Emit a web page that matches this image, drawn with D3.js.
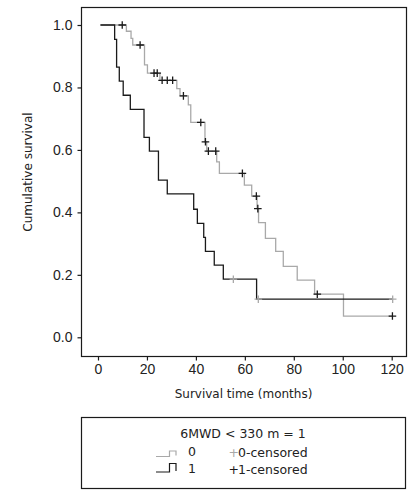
<!DOCTYPE html>
<html>
<head>
<meta charset="utf-8">
<script src="https://cdn.jsdelivr.net/npm/d3@7"></script>
<style>
  html, body { margin: 0; padding: 0; background: #fff; }
  svg { display: block; }
</style>
</head>
<body>
<svg id="chart" width="420" height="492"></svg>
<script>
// ---- Data ----
// Group 0 (6MWD >= 330 m): step drops (time in months, survival after drop)
const group0Start = 1;
const group0End = 120.3;
const group0Times = [11.6, 13.5, 14.2, 19.0, 20.2, 25.3, 32.2, 33.5, 36.9, 37.9, 43.7, 44.4, 48.5, 49.6, 59.8, 62.8, 65.0, 65.6, 68.4, 72.6, 75.7, 81.4, 88.5, 100.3];
const group0Surv  = [0.980, 0.957, 0.936, 0.872, 0.846, 0.823, 0.796, 0.773, 0.744, 0.688, 0.626, 0.596, 0.562, 0.525, 0.487, 0.452, 0.412, 0.367, 0.317, 0.275, 0.227, 0.183, 0.138, 0.068];
const group0Censored = [9.9, 17.2, 22.9, 24.2, 26.2, 28.3, 30.5, 34.9, 42.0, 43.9, 45.1, 48.1, 59.0, 64.7, 65.3, 89.6, 120.3];

// Group 1 (6MWD < 330 m)
const group1Start = 1;
const group1End = 120.4;
const group1Times = [6.8, 7.6, 8.7, 10.3, 13.2, 18.8, 21.0, 24.7, 28.3, 39.1, 40.6, 43.2, 43.9, 47.5, 51.2, 64.8];
const group1Surv  = [0.954, 0.865, 0.820, 0.775, 0.730, 0.640, 0.596, 0.503, 0.459, 0.410, 0.365, 0.320, 0.275, 0.231, 0.186, 0.122];
const group1Censored = [55.3, 65.5, 120.4];

const xTicks = [0, 20, 40, 60, 80, 100, 120];
const yTicks = [0.0, 0.2, 0.4, 0.6, 0.8, 1.0];
const xTitle = "Survival time (months)";
const yTitle = "Cumulative survival";
const legendTitle = "6MWD < 330 m = 1";
const legendLabels = ["0", "1"];
const legendCensorLabels = ["0-censored", "1-censored"];

// ---- Styles ----
const GRAY = "#a9a9a9";
const BLACK = "#1a1a1a";
const frame = { left: 81, top: 7, right: 406, bottom: 356 };

const svg = d3.select("#chart");

const x = d3.scaleLinear().domain([0, 120]).range([98, 391.7]);
const y = d3.scaleLinear().domain([0, 1]).range([337.3, 25]);

// frame
svg.append("rect")
  .attr("x", frame.left + 0.5).attr("y", frame.top + 0.5)
  .attr("width", frame.right - frame.left).attr("height", frame.bottom - frame.top)
  .attr("fill", "none").attr("stroke", BLACK).attr("stroke-width", 1.2);

// axes
const yAxis = d3.axisLeft(y).tickValues(yTicks).tickFormat(d3.format(".1f")).tickSize(4).tickPadding(5);
const gy = svg.append("g").attr("transform", `translate(${frame.left + 0.5},0)`).call(yAxis);
const xAxis = d3.axisBottom(x).tickValues(xTicks).tickFormat(d3.format("d")).tickSize(4).tickPadding(4);
const gx = svg.append("g").attr("transform", `translate(0,${frame.bottom + 0.5})`).call(xAxis);
[gx, gy].forEach(g => {
  g.select(".domain").remove();
  g.selectAll(".tick line").attr("stroke", BLACK).attr("stroke-width", 1.2);
  g.selectAll(".tick text").attr("fill", "#222")
    .style("font-family", "'Liberation Sans', Arial, sans-serif").style("font-size", "14px");
});

// titles
svg.append("text").attr("x", 243.5).attr("y", 398)
  .attr("text-anchor", "middle").attr("fill", "#222")
  .style("font-family", "'DejaVu Sans', sans-serif").style("font-size", "12px")
  .text(xTitle);
svg.append("text").attr("transform", "translate(32,172) rotate(-90)")
  .attr("text-anchor", "middle").attr("fill", "#222")
  .style("font-family", "'DejaVu Sans', sans-serif").style("font-size", "12px")
  .text(yTitle);

// step curves
function stepPoints(start, end, times, surv) {
  const pts = [[start, 1]];
  times.forEach((t, i) => pts.push([t, surv[i]]));
  pts.push([end, surv[surv.length - 1]]);
  return pts;
}
function survAt(t, times, surv) {
  let s = 1;
  times.forEach((tt, i) => { if (tt <= t) s = surv[i]; });
  return s;
}
const line = d3.line().x(d => x(d[0])).y(d => y(d[1])).curve(d3.curveStepAfter);

svg.append("path").datum(stepPoints(group0Start, group0End, group0Times, group0Surv))
  .attr("d", line).attr("fill", "none").attr("stroke", GRAY).attr("stroke-width", 1.3);
svg.append("path").datum(stepPoints(group1Start, group1End, group1Times, group1Surv))
  .attr("d", line).attr("fill", "none").attr("stroke", BLACK).attr("stroke-width", 1.3);

// censor marks
function cross(g, cx, cy, color) {
  const a = 3.8;
  g.append("path")
    .attr("d", `M${cx - a},${cy}H${cx + a}M${cx},${cy - a}V${cy + a}`)
    .attr("stroke", color).attr("stroke-width", 1.3).attr("fill", "none");
}
const marks = svg.append("g");
group0Censored.forEach(t => cross(marks, x(t), y(survAt(t, group0Times, group0Surv)), BLACK));
group1Censored.forEach(t => cross(marks, x(t), y(survAt(t, group1Times, group1Surv)), GRAY));

// legend
const lg = svg.append("g");
lg.append("rect").attr("x", 81.5).attr("y", 417.5).attr("width", 324).attr("height", 71)
  .attr("fill", "none").attr("stroke", BLACK).attr("stroke-width", 1.2);
const lfont = "'DejaVu Sans', sans-serif";
lg.append("text").attr("x", 243).attr("y", 437.5).attr("text-anchor", "middle").attr("fill", "#222")
  .style("font-family", lfont).style("font-size", "12.5px").text(legendTitle);
const rows = [
  { yb: 456.5, yt: 451, base: 456, color: GRAY, crossColor: GRAY },
  { yb: 472, yt: 463.5, base: 473, color: BLACK, crossColor: BLACK }
];
rows.forEach((r, i) => {
  lg.append("path")
    .attr("d", `M156,${r.yb}H169.5V${r.yt}H176V${r.yb - 1}`)
    .attr("fill", "none").attr("stroke", r.color).attr("stroke-width", 1.2);
  lg.append("text").attr("x", 188).attr("y", r.base).attr("fill", "#222")
    .style("font-family", lfont).style("font-size", "12.5px").text(legendLabels[i]);
  lg.append("text").attr("x", 228.5).attr("y", r.base + 1).attr("fill", r.crossColor)
    .style("font-family", lfont).style("font-size", "12.5px").text("+");
  lg.append("text").attr("x", 238).attr("y", r.base + 1).attr("fill", "#222")
    .style("font-family", lfont).style("font-size", "12.5px").text(legendCensorLabels[i]);
});
</script>
</body>
</html>
